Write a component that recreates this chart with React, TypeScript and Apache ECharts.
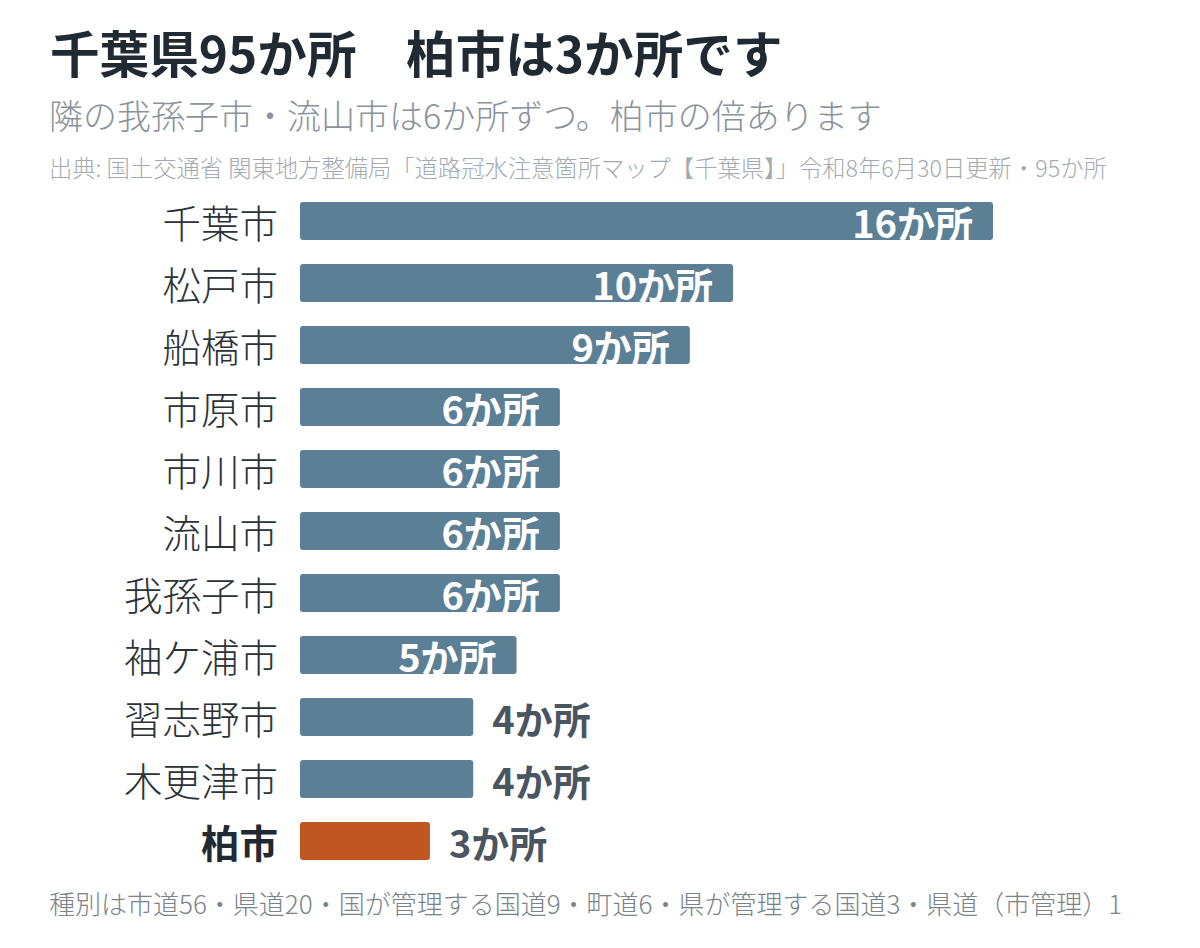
import React, { useEffect, useRef } from 'react';
import * as echarts from 'echarts';

const cities = ['千葉市', '松戸市', '船橋市', '市原市', '市川市', '流山市', '我孫子市', '袖ケ浦市', '習志野市', '木更津市', '柏市'];
const counts = [16, 10, 9, 6, 6, 6, 6, 5, 4, 4, 3];
const highlight = '柏市';

const FONT = '"Noto Sans CJK JP", "Noto Sans", sans-serif';

function App() {
  const chartRef = useRef(null);

  useEffect(() => {
    document.body.style.margin = '0';
    const chart = echarts.init(chartRef.current, null, { renderer: 'svg' });

    const data = counts.map((v, i) => {
      const isHl = cities[i] === highlight;
      const inside = v >= 5;
      return {
        value: v,
        itemStyle: { color: isHl ? '#c05621' : '#5b7f95' },
        label: {
          show: true,
          position: inside ? 'insideRight' : 'right',
          distance: inside ? 20 : 19,
          color: inside ? '#ffffff' : '#4a5560',
        },
      };
    });

    const options = {
      animation: false,
      backgroundColor: '#ffffff',
      textStyle: { fontFamily: FONT },
      title: [
        {
          text: '千葉県95か所　柏市は3か所です',
          left: 45,
          top: 21,
          textStyle: { fontSize: 49.6, fontWeight: 'bold', color: '#1f2a33', fontFamily: FONT },
        },
        {
          text: '隣の我孫子市・流山市は6か所ずつ。柏市の倍あります',
          left: 44,
          top: 92,
          textStyle: { fontSize: 34, fontWeight: 300, color: '#8a939b', fontFamily: FONT },
        },
        {
          text: '出典: 国土交通省 関東地方整備局「道路冠水注意箇所マップ【千葉県】」令和8年6月30日更新・95か所',
          left: 44,
          top: 150,
          textStyle: { fontSize: 23.3, fontWeight: 300, color: '#a3abb1', fontFamily: FONT },
        },
        {
          text: '種別は市道56・県道20・国が管理する国道9・町道6・県が管理する国道3・県道（市管理）1',
          left: 44,
          top: 884,
          textStyle: { fontSize: 26, fontWeight: 300, color: '#7a8389', fontFamily: FONT },
        },
      ],
      grid: { left: 300, top: 190, width: 693, height: 682, containLabel: false },
      xAxis: {
        type: 'value',
        min: 0,
        max: 16,
        show: false,
      },
      yAxis: {
        type: 'category',
        data: cities,
        inverse: true,
        axisLine: { show: false },
        axisTick: { show: false },
        axisLabel: {
          margin: 22,
          formatter: (v: string) => (v === highlight ? `{hl|${v}}` : `{n|${v}}`),
          rich: {
            n: { fontSize: 38.5, color: '#2b3338', fontWeight: 300, fontFamily: FONT },
            hl: { fontSize: 38.5, color: '#1f2a33', fontWeight: 'bold', fontFamily: FONT },
          },
        },
      },
      series: [
        {
          type: 'bar',
          data,
          barWidth: 38,
          itemStyle: { borderRadius: 3 },
          label: {
            fontSize: 38,
            fontWeight: 'bold',
            fontFamily: FONT,
            formatter: (p: any) => `${p.value}か所`,
          },
        },
      ],
    };

    chart.setOption(options);
    return () => {
      chart.dispose();
    };
  }, []);

  return <div ref={chartRef} style={{ width: '1200px', height: '948px' }}></div>;
}

export default App;
